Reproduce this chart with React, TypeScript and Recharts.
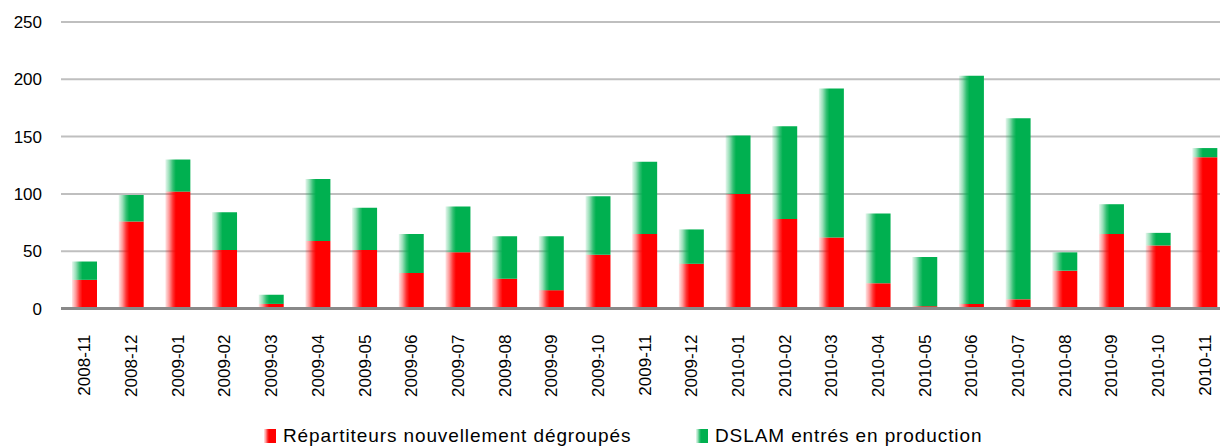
import { BarChart, Bar, XAxis, YAxis, CartesianGrid } from "recharts";

const months = [
  "2008-11", "2008-12", "2009-01", "2009-02", "2009-03", "2009-04", "2009-05",
  "2009-06", "2009-07", "2009-08", "2009-09", "2009-10", "2009-11", "2009-12",
  "2010-01", "2010-02", "2010-03", "2010-04", "2010-05", "2010-06", "2010-07",
  "2010-08", "2010-09", "2010-10", "2010-11",
];

const repartiteurs = [
  25, 76, 102, 51, 4, 59, 51, 31, 49, 26, 16, 47, 65, 39, 100, 78, 62, 22, 2, 4, 8, 33, 65, 55, 132,
];

const dslam = [
  16, 23, 28, 33, 8, 54, 37, 34, 40, 37, 47, 51, 63, 30, 51, 81, 130, 61, 43, 199, 158, 16, 26, 11, 8,
];

const yTicks = [0, 50, 100, 150, 200, 250];

const RED = "#FF0000";
const GREEN = "#00B050";

const chartData = months.map((m, i) => ({
  month: m,
  repartiteurs: repartiteurs[i],
  dslam: dslam[i],
}));

function MonthTick({ x, y, payload }: any) {
  const ty = y + 26;
  return (
    <text
      x={x}
      y={ty}
      transform={`rotate(-90, ${x}, ${ty})`}
      textAnchor="end"
      dy="0.36em"
      fontSize={17}
      fontFamily="'Liberation Sans', Arial, sans-serif"
      fill="#000"
    >
      {payload.value}
    </text>
  );
}

function Fade({ id, color }: { id: string; color: string }) {
  return (
    <linearGradient id={id} x1="0" y1="0" x2="1" y2="0">
      <stop offset="0" stopColor={color} stopOpacity={0.1} />
      <stop offset="0.15" stopColor={color} stopOpacity={0.4} />
      <stop offset="0.3" stopColor={color} stopOpacity={0.8} />
      <stop offset="0.42" stopColor={color} stopOpacity={1} />
      <stop offset="1" stopColor={color} stopOpacity={1} />
    </linearGradient>
  );
}

function LegendItem({ left, color, id, label }: { left: number; color: string; id: string; label: string }) {
  return (
    <div style={{ position: "absolute", left, top: 425, display: "flex", alignItems: "center", whiteSpace: "nowrap" }}>
      <svg width={12} height={14} style={{ marginRight: 7 }}>
        <defs>
          <Fade id={id} color={color} />
        </defs>
        <rect width={12} height={14} fill={`url(#${id})`} />
      </svg>
      <span
        style={{
          fontSize: 19,
          letterSpacing: 0.9,
          fontFamily: "'Liberation Sans', Arial, sans-serif",
          color: "#000",
        }}
      >
        {label}
      </span>
    </div>
  );
}

export default function App() {
  return (
    <div style={{ position: "absolute", left: 0, top: 0, width: 1220, height: 447, overflow: "hidden", background: "#fff" }}>
      <BarChart
        width={1240}
        height={447}
        data={chartData}
        margin={{ top: 22, right: 12, bottom: 0, left: 0 }}
      >
        <defs>
          <Fade id="fadeRed" color={RED} />
          <Fade id="fadeGreen" color={GREEN} />
        </defs>
        <CartesianGrid vertical={false} stroke="#BFBFBF" strokeWidth={2} />
        <XAxis
          dataKey="month"
          height={138.5}
          interval={0}
          tickLine={false}
          tickSize={0}
          tickMargin={0}
          axisLine={{ stroke: "#898989", strokeWidth: 3 }}
          tick={<MonthTick />}
        />
        <YAxis
          width={61}
          domain={[0, 250]}
          ticks={yTicks}
          axisLine={false}
          tickLine={false}
          tickSize={0}
          tickMargin={19}
          tick={{ fontSize: 17, fill: "#000", fontFamily: "'Liberation Sans', Arial, sans-serif" }}
        />
        <Bar dataKey="repartiteurs" stackId="a" barSize={25} fill="url(#fadeRed)" isAnimationActive={false} />
        <Bar dataKey="dslam" stackId="a" barSize={25} fill="url(#fadeGreen)" isAnimationActive={false} />
      </BarChart>
      <LegendItem left={264} color={RED} id="legRed" label="Répartiteurs nouvellement dégroupés" />
      <LegendItem left={696} color={GREEN} id="legGreen" label="DSLAM entrés en production" />
    </div>
  );
}
